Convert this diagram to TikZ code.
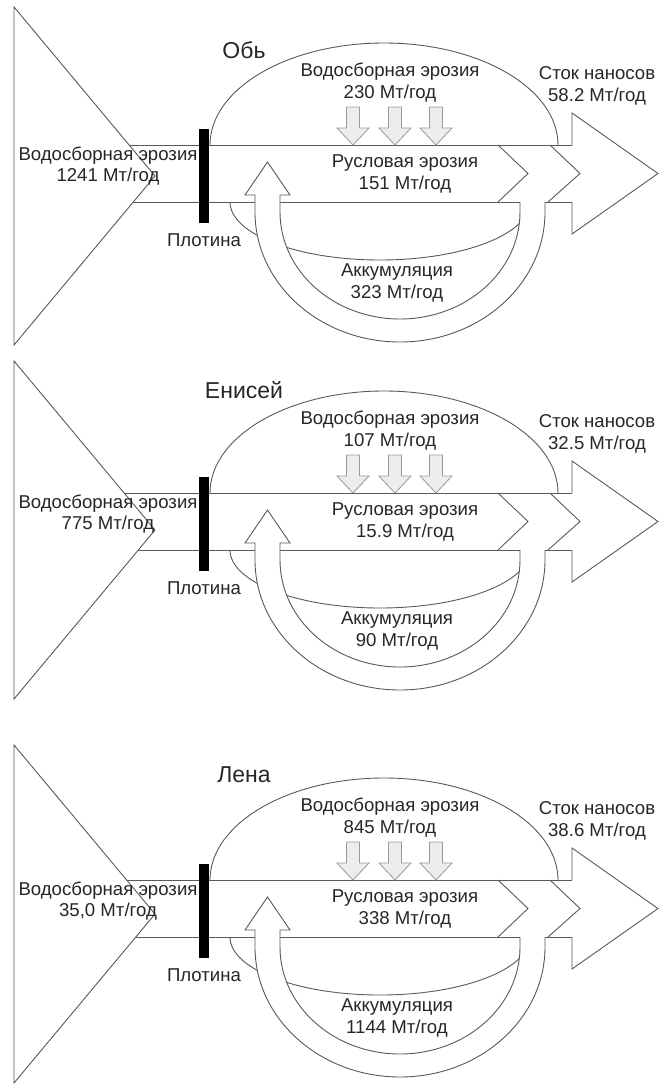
\documentclass[tikz,border=0pt]{standalone}
\usepackage{fontspec}
\setmainfont{Liberation Sans}
\usetikzlibrary{calc}

\begin{document}
\begin{tikzpicture}[x=1pt,y=-1pt,
  contour/.style={draw=black!65, line width=0.9pt},
  patch/.style={contour, fill=white},
  dropbox/.style={draw=black!40, fill=black!7, line width=0.8pt},
  lbl/.style={text=black!85, font=\fontsize{18.6}{21.5}\selectfont, align=center, inner sep=0pt},
  river/.style={text=black!85, font=\fontsize{23}{26}\selectfont, inner sep=0pt}]

\useasboundingbox (0,0) rectangle (659,1084);

\foreach \i/\dy/\ty/\ly/\rname/\basin/\bed/\acc/\out/\catch in {%
  1/0/0/50/Обь/230/151/323/58.2/1241,
  2/348/6/42/Енисей/107/15.9/90/32.5/775,
  3/735/3/40/Лена/845/338/1144/38.6/{35,0}}{
\begin{scope}[shift={(0,\dy)}]
 % dome and bowl
 \draw [patch] (210,145) arc[start angle=180, end angle=360, x radius=174, y radius=102];
 \draw [contour] (230,202) arc[start angle=180, end angle=0, x radius=150, y radius=58];

 \draw [contour] (100,145) -- (572,145);
 \draw [contour] (100,202) -- (572,202);
 \draw [patch] (14,{7+\ty}) -- (14,{345+\ty}) -- (155,{176+\ty}) -- cycle;

 % chevrons and outflow head
 \draw [contour] (498,145) -- (528,173.5) -- (498,202);
 \draw [contour] (550,145) -- (580,173.5) -- (548,202);
 \draw [contour] (572,145) -- (572,113) -- (658,173.5) -- (572,234) -- (572,202);

 % return arrow
 \draw [patch] (545,202) -- (545,212) arc[start angle=0, end angle=180, x radius=145, y radius=130]
   -- (255,195) -- (245,195) -- (267.5,162) -- (290,195) -- (280,195) -- (280,212)
   arc[start angle=180, end angle=0, x radius=120, y radius=107] -- (520,202);

 \foreach \x in {353,395,436}
   \draw [dropbox] ({\x-6.5},107) -- ({\x+6.5},107) -- ({\x+6.5},128) -- ({\x+16},128)
     -- (\x,145) -- ({\x-16},128) -- ({\x-6.5},128) -- cycle;

 \fill [black] (199,129) rectangle (209,223);

 \node [river] (title\i) at (244,\ly) {\rname};
 \node [lbl] (basin\i) at (390,82.5) {Водосборная эрозия\\\basin{} Мт/год};
 \node [lbl] (out\i) at (597,86) {Сток наносов\\\out{} Мт/год};
 \node [lbl] (bed\i) at (405,174) {Русловая эрозия\\\bed{} Мт/год};
 \node [lbl] (acc\i) at (397,283) {Аккумуляция\\\acc{} Мт/год};
 \node [lbl] (catch\i) at (108,166) {Водосборная эрозия\\\catch{} Мт/год};
 \node [lbl] (dam\i) at (204,240) {Плотина};
\end{scope}}

\end{tikzpicture}
\end{document}
